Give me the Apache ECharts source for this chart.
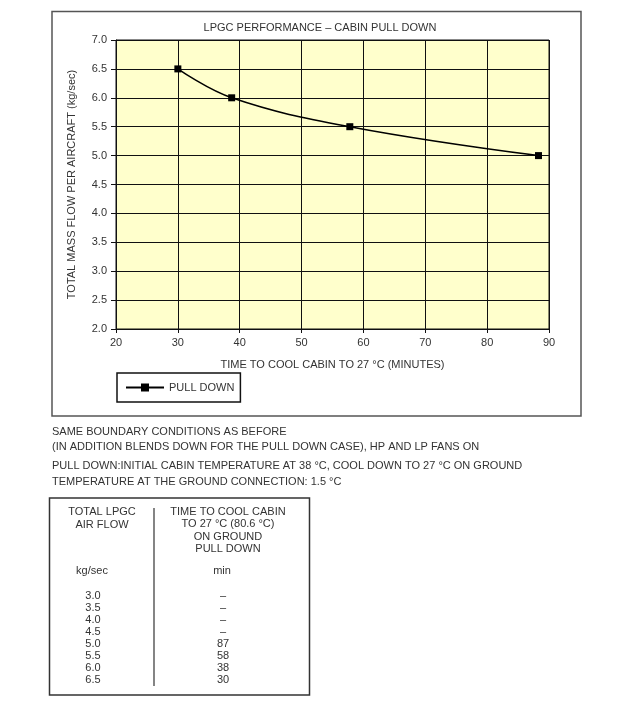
<!DOCTYPE html>
<html>
<head>
<meta charset="utf-8">
<script src="https://cdn.jsdelivr.net/npm/echarts@6/dist/echarts.min.js"></script>
<style>
html,body{margin:0;padding:0;background:#fff;}
#c{width:640px;height:703px;}
</style>
</head>
<body>
<div id="c"></div>
<script>
// ---- data ----
var pullDownTime = [30, 38.7, 57.8, 88.3];      // minutes (x)
var pullDownFlow = [6.5, 6.0, 5.5, 5.0];        // kg/sec (y)
var xTicks = [20, 30, 40, 50, 60, 70, 80, 90];
var yTicks = [2.0, 2.5, 3.0, 3.5, 4.0, 4.5, 5.0, 5.5, 6.0, 6.5, 7.0];
var noteLines = [
  'SAME BOUNDARY CONDITIONS AS BEFORE',
  '(IN ADDITION BLENDS DOWN FOR THE PULL DOWN CASE), HP AND LP FANS ON',
  'PULL DOWN:INITIAL CABIN TEMPERATURE AT 38 \u00B0C, COOL DOWN TO 27 \u00B0C ON GROUND',
  'TEMPERATURE AT THE GROUND CONNECTION: 1.5 \u00B0C'
];
var tableHeadLeft = ['TOTAL LPGC', 'AIR FLOW'];
var tableHeadRight = ['TIME TO COOL CABIN', 'TO 27 \u00B0C (80.6 \u00B0C)', 'ON GROUND', 'PULL DOWN'];
var tableUnits = ['kg/sec', 'min'];
var tableFlow = ['3.0', '3.5', '4.0', '4.5', '5.0', '5.5', '6.0', '6.5'];
var tableTime = ['\u2013', '\u2013', '\u2013', '\u2013', '87', '58', '38', '30'];

// ---- chart ----
var FONT = '"Liberation Sans", Arial, Helvetica, sans-serif';
var TXT = '#333';
var chart = echarts.init(document.getElementById('c'));

var seriesData = pullDownTime.map(function (t, i) { return [t, pullDownFlow[i]]; });

var graphics = [];
// outer chart frame
graphics.push({
  type: 'rect', z: -10, silent: true,
  shape: { x: 52, y: 11.5, width: 529, height: 404.5 },
  style: { fill: 'none', stroke: '#555', lineWidth: 1.5 }
});
// notes
var noteY = [432, 447, 466, 482];
noteLines.forEach(function (s, i) {
  graphics.push({
    type: 'text', x: 52, y: noteY[i],
    style: { text: s, font: '11px ' + FONT, fill: TXT, verticalAlign: 'middle', align: 'left' }
  });
});
// table frame
graphics.push({
  type: 'rect', shape: { x: 49.5, y: 498, width: 260, height: 197 },
  style: { fill: 'none', stroke: '#333', lineWidth: 1.5 }
});
graphics.push({
  type: 'line', shape: { x1: 154, y1: 508, x2: 154, y2: 686 },
  style: { stroke: '#333', lineWidth: 1.2 }
});
function addText(s, x, y) {
  graphics.push({
    type: 'text', x: x, y: y,
    style: { text: s, font: '11px ' + FONT, fill: TXT, verticalAlign: 'middle', align: 'center' }
  });
}
tableHeadLeft.forEach(function (s, i) { addText(s, 102, 512 + i * 12.5); });
tableHeadRight.forEach(function (s, i) { addText(s, 228, 512 + i * 12.4); });
addText(tableUnits[0], 92, 571);
addText(tableUnits[1], 222, 571);
tableFlow.forEach(function (s, i) { addText(s, 93, 596 + i * 12); });
tableTime.forEach(function (s, i) { addText(s, 223, 596 + i * 12); });

var option = {
  backgroundColor: '#fff',
  animation: false,
  title: {
    text: 'LPGC PERFORMANCE \u2013 CABIN PULL DOWN',
    left: 'center', top: 17,
    textStyle: { fontFamily: FONT, fontSize: 11, fontWeight: 'normal', color: TXT }
  },
  legend: {
    left: 117, top: 373,
    orient: 'horizontal',
    padding: [9, 6, 9, 8],
    borderColor: '#111', borderWidth: 1.5,
    itemWidth: 38, itemHeight: 10,
    textStyle: { fontFamily: FONT, fontSize: 11, color: TXT },
    data: ['PULL DOWN']
  },
  grid: {
    left: 116, right: 91, top: 40, bottom: 374,
    show: true, backgroundColor: '#FFFFCC', borderColor: '#111', borderWidth: 1
  },
  xAxis: {
    type: 'value', min: xTicks[0], max: xTicks[xTicks.length - 1], interval: 10,
    name: 'TIME TO COOL CABIN TO 27 \u00B0C (MINUTES)',
    nameLocation: 'middle', nameGap: 30,
    nameTextStyle: { fontFamily: FONT, fontSize: 11, color: TXT },
    axisLine: { lineStyle: { color: '#111', width: 1 } },
    axisTick: { show: true, inside: false, length: 4, lineStyle: { color: '#111' } },
    axisLabel: { fontFamily: FONT, fontSize: 11, color: TXT, margin: 8 },
    splitLine: { show: true, lineStyle: { color: '#111', width: 1 } }
  },
  yAxis: {
    type: 'value', min: yTicks[0], max: yTicks[yTicks.length - 1], interval: 0.5,
    name: 'TOTAL MASS FLOW PER AIRCRAFT (kg/sec)',
    nameLocation: 'middle', nameGap: 39, nameRotate: 90,
    nameTextStyle: { fontFamily: FONT, fontSize: 11, color: TXT },
    axisLine: { show: true, lineStyle: { color: '#111', width: 1 } },
    axisTick: { show: true, inside: false, length: 5, lineStyle: { color: '#111' } },
    axisLabel: { fontFamily: FONT, fontSize: 11, color: TXT, margin: 9,
      formatter: function (v) { return v.toFixed(1); } },
    splitLine: { show: true, lineStyle: { color: '#111', width: 1 } }
  },
  series: [{
    name: 'PULL DOWN', type: 'line',
    data: seriesData,
    smooth: 0.4,
    symbol: 'rect', symbolSize: 7,
    lineStyle: { color: '#000', width: 1.5 },
    itemStyle: { color: '#000' }
  }],
  graphic: graphics
};
chart.setOption(option);
</script>
</body>
</html>
